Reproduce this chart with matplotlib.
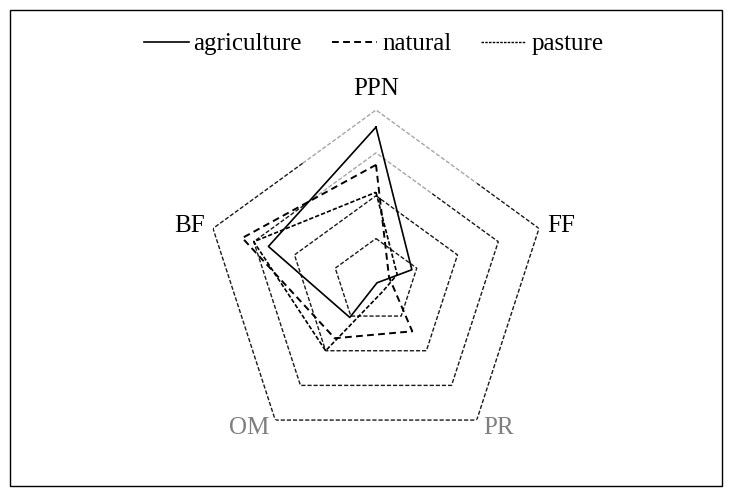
import numpy as np
import matplotlib
matplotlib.use("Agg")
import matplotlib.pyplot as plt
from matplotlib.lines import Line2D
from matplotlib.patches import Rectangle

# ---- data -------------------------------------------------------------
categories = ["PPN", "FF", "PR", "OM", "BF"]
agriculture = [0.90, 0.22, 0.01, 0.26, 0.66]
natural = [0.68, 0.08, 0.36, 0.41, 0.82]
pasture = [0.52, 0.13, 0.07, 0.50, 0.75]
grid_levels = [0.25, 0.50, 0.75, 1.00]
label_colors = ["black", "black", "#7f7f7f", "#7f7f7f", "black"]

# ---- figure -----------------------------------------------------------
W, H = 729, 496
fig = plt.figure(figsize=(W / 100, H / 100), dpi=100)
plt.rcParams["font.family"] = ["Liberation Serif", "DejaVu Serif"]

fig.patches.append(Rectangle((10 / W, 10 / H), 712 / W, 476 / H, transform=fig.transFigure,
                             fill=False, edgecolor="black", linewidth=1.0))

cx, cy, R = 376, 281.4, 171.4
ax = fig.add_axes([(cx - R) / W, (H - cy - R) / H, 2 * R / W, 2 * R / H], projection="polar")
ax.set_theta_offset(np.pi / 2)
ax.set_theta_direction(-1)
ax.set_ylim(0, 1)
ax.axis("off")

n = len(categories)
angles = np.linspace(0, 2 * np.pi, n, endpoint=False)


def closed(v):
    return list(v) + [v[0]]


def edge_point(th_a, th_b, r, t):
    xa, ya = r * np.sin(th_a), r * np.cos(th_a)
    xb, yb = r * np.sin(th_b), r * np.cos(th_b)
    x, y = xa + (xb - xa) * t, ya + (yb - ya) * t
    return np.arctan2(x, y) % (2 * np.pi), np.hypot(x, y)


grid_ls = (0, (3, 1.4))
grid_lw = 1.0
grey_frac = {1.00: (0.45, 0.62), 0.75: (0.55, 0.45)}
for lvl in grid_levels:
    if lvl in grey_frac:
        fl, fr = grey_frac[lvl]
        tl, rl = edge_point(angles[0], angles[4], lvl, fl)
        tr, rr = edge_point(angles[0], angles[1], lvl, fr)
        th_black = [tl, angles[4], angles[3], angles[2], angles[1], tr]
        r_black = [rl, lvl, lvl, lvl, lvl, rr]
        ax.plot(th_black, r_black, color="#1a1a1a", lw=grid_lw, ls=grid_ls)
        ax.plot([tl, angles[0], tr], [rl, lvl, rr], color="#a6a6a6", lw=grid_lw, ls=grid_ls)
    else:
        ax.plot(closed(angles), [lvl] * (n + 1), color="#1a1a1a", lw=grid_lw, ls=grid_ls)

nat_ls = (0, (3.5, 2.2))
pas_ls = (0, (2.6, 1.2))
ax.plot(closed(angles), closed(agriculture), color="black", lw=1.2, ls="-")
ax.plot(closed(angles), closed(natural), color="black", lw=1.4, ls=nat_ls)
ax.plot(closed(angles), closed(pasture), color="black", lw=1.2, ls=pas_ls)

# axis labels
ax.text(angles[0], 1.12, categories[0], ha="center", va="center", fontsize=18, color=label_colors[0])
ax.text(angles[1], 1.05, categories[1], ha="left", va="center", fontsize=18, color=label_colors[1])
ax.text(angles[2], 1.06, categories[2], ha="left", va="center", fontsize=18, color=label_colors[2])
ax.text(angles[3], 1.06, categories[3], ha="right", va="center", fontsize=18, color=label_colors[3])
ax.text(angles[4], 1.05, categories[4], ha="right", va="center", fontsize=18, color=label_colors[4])

handles = [
    Line2D([], [], color="black", lw=1.2, ls="-"),
    Line2D([], [], color="black", lw=1.4, ls=nat_ls),
    Line2D([], [], color="black", lw=1.0, ls=(0, (1.8, 0.9))),
]
fig.legend(handles, ["agriculture", "natural", "pasture"], loc="center",
           bbox_to_anchor=(373.5 / W, 1 - 44 / H), ncol=3, frameon=False,
           prop={"size": 18}, handlelength=1.8, handletextpad=0.2, columnspacing=1.2)

fig.savefig("out.png", dpi=100)
